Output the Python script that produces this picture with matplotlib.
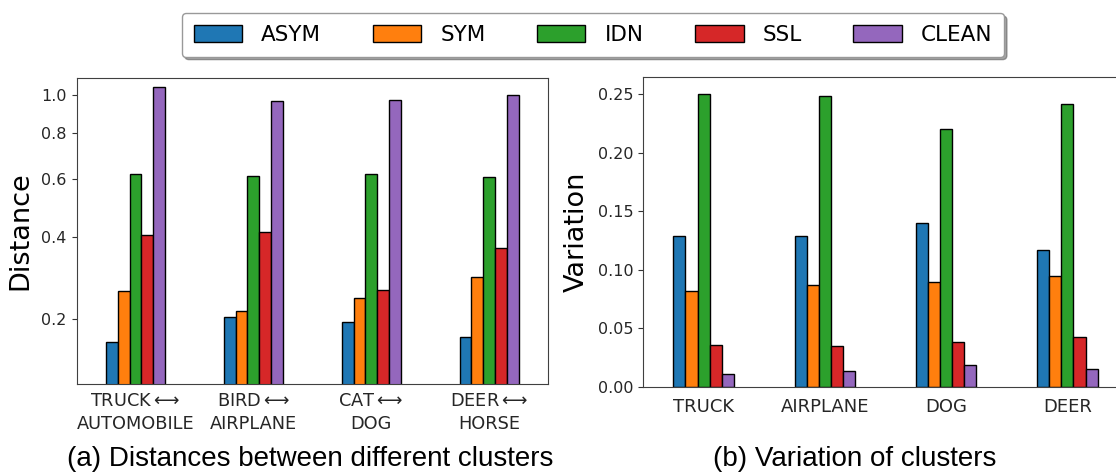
import numpy as np
import matplotlib
matplotlib.use("Agg")
import matplotlib.pyplot as plt

# values
methods = ["ASYM", "SYM", "IDN", "SSL", "CLEAN"]
colors = ["#1f77b4", "#ff7f0e", "#2ca02c", "#d62728", "#9467bd"]

pair_labels = ["TRUCK$\\longleftrightarrow$\nAUTOMOBILE",
               "BIRD$\\longleftrightarrow$\nAIRPLANE",
               "CAT$\\longleftrightarrow$\nDOG",
               "DEER$\\longleftrightarrow$\nHORSE"]
distance = {
    "ASYM":  [0.159, 0.204, 0.194, 0.167],
    "SYM":   [0.258, 0.215, 0.242, 0.290],
    "IDN":   [0.619, 0.613, 0.619, 0.607],
    "SSL":   [0.405, 0.413, 0.261, 0.368],
    "CLEAN": [1.043, 0.963, 0.970, 0.996],
}

class_labels = ["TRUCK", "AIRPLANE", "DOG", "DEER"]
variation = {
    "ASYM":  [0.129, 0.129, 0.140, 0.117],
    "SYM":   [0.082, 0.087, 0.090, 0.095],
    "IDN":   [0.250, 0.248, 0.220, 0.2415],
    "SSL":   [0.036, 0.035, 0.038, 0.043],
    "CLEAN": [0.011, 0.014, 0.019, 0.015],
}

W, H = 1116, 474
fig = plt.figure(figsize=(W / 100, H / 100), dpi=100)

ax1 = fig.add_axes([76.5 / W, 1 - 384 / H, 471.5 / W, 306 / H])
ax2 = fig.add_axes([643 / W, 1 - 387 / H, 485 / W, 310.3 / H])


def grouped_bars(ax, data, labels):
    x = np.arange(len(labels))
    bw = 0.1
    for i, m in enumerate(methods):
        ax.bar(x + (i - 2) * bw, data[m], bw, color=colors[i],
               edgecolor="black", linewidth=1.0, label=m)
    ax.set_xticks(x)
    ax.set_xticklabels(labels)
    ax.set_xlim(-0.5, 3.5)
    ax.tick_params(axis="x", length=0, labelsize=13, pad=8, labelcolor="0.15")
    ax.tick_params(axis="y", labelsize=11.5, labelcolor="0.15", color="0.2")
    for sp in ax.spines.values():
        sp.set_color("0.25")


grouped_bars(ax1, distance, pair_labels)
ax1.set_yscale("function", functions=(np.cbrt, lambda v: v ** 3))
ax1.set_ylim(0.1, 1.095)
ax1.set_yticks([0.2, 0.4, 0.6, 0.8, 1.0])
ax1.set_yticklabels(["0.2", "0.4", "0.6", "0.8", "1.0"])
ax1.set_ylabel("Distance", fontsize=19.5, labelpad=6)
ax1.tick_params(axis="x", labelsize=12.8, pad=6)
for t in ax1.get_xticklabels():
    t.set_linespacing(1.3)

grouped_bars(ax2, variation, class_labels)
ax2.set_ylim(0, 0.2648)
ax2.set_ylabel("Variation", fontsize=19.5, labelpad=6)

handles, labs = ax1.get_legend_handles_labels()
leg = fig.legend(handles, labs, loc="center", bbox_to_anchor=(593 / W, 1 - 35 / H),
                 ncol=5, fontsize=15.5, shadow=True, fancybox=True,
                 borderpad=0.55, handlelength=2.25, handleheight=0.78,
                 handletextpad=0.88, columnspacing=2.4, framealpha=1)
leg.get_frame().set_edgecolor("0.6")

cap = dict(fontsize=20, family=["Liberation Sans", "DejaVu Sans"], ha="center", va="center")
fig.text(310 / W, 1 - 459 / H, "(a) Distances between different clusters", **cap)
fig.text(855 / W, 1 - 459 / H, "(b) Variation of clusters", **cap)

fig.savefig("out.png", dpi=100)
